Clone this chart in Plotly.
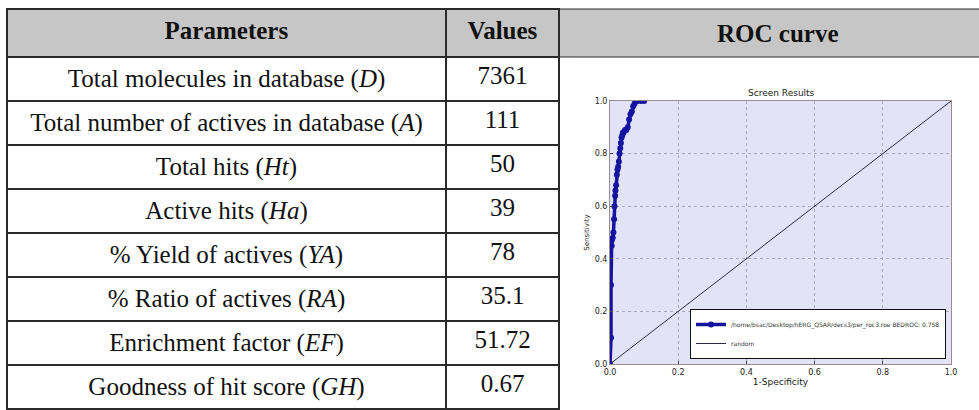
import plotly.graph_objects as go

W, H = 979, 410

# ---- table data ----
header_labels = ["<b>Parameters</b>", "<b>Values</b>"]
roc_header = "<b>ROC curve</b>"
parameters = [
    "Total molecules in database (<i>D</i>)",
    "Total number of actives in database (<i>A</i>)",
    "Total hits (<i>Ht</i>)",
    "Active hits (<i>Ha</i>)",
    "% Yield of actives (<i>YA</i>)",
    "% Ratio of actives (<i>RA</i>)",
    "Enrichment factor (<i>EF</i>)",
    "Goodness of hit score (<i>GH</i>)",
]
values = ["7361", "111", "50", "39", "78", "35.1", "51.72", "0.67"]

# ---- ROC data ----
fpr = [0.0, 0.003, 0.003, 0.005, 0.005, 0.008, 0.010, 0.012, 0.013, 0.015, 0.016,
       0.018, 0.020, 0.022, 0.024, 0.026, 0.028, 0.030, 0.032, 0.034, 0.036, 0.038,
       0.040, 0.044, 0.048, 0.052, 0.056, 0.060, 0.064, 0.068, 0.072, 0.076, 0.080,
       0.090, 0.100]
tpr = [0.0, 0.10, 0.30, 0.45, 0.47, 0.48, 0.50, 0.55, 0.60, 0.64, 0.66,
       0.68, 0.72, 0.74, 0.75, 0.77, 0.80, 0.82, 0.84, 0.86, 0.87, 0.88,
       0.88, 0.89, 0.89, 0.90, 0.93, 0.95, 0.96, 0.98, 0.99, 1.0, 1.0,
       1.0, 1.0]
random_x = [0.0, 1.0]
random_y = [0.0, 1.0]
ticks = [0.0, 0.2, 0.4, 0.6, 0.8, 1.0]
tick_text = ["0.0", "0.2", "0.4", "0.6", "0.8", "1.0"]
roc_name = "/home/bsac/Desktop/hERG_QSAR/decs3/per_roc3.roe BEDROC: 0.758"

def px(x):
    return x / W

def py(y):
    return 1 - y / H

fig = go.Figure()

SERIF = "Liberation Serif, Times New Roman, serif"
GRAY = "#c6c6c6"
LINE = "#2a2a2a"

fig.add_trace(go.Table(
    domain=dict(x=[px(7), px(559)], y=[0, py(9)]),
    columnwidth=[439, 113],
    header=dict(values=header_labels, fill_color=GRAY, height=48,
                line=dict(color=LINE, width=1.2),
                font=dict(family=SERIF, size=25, color="#111111"), align="center"),
    cells=dict(values=[parameters, values], fill_color="white", height=44,
               line=dict(color=LINE, width=1.2),
               font=dict(family=SERIF, size=25, color="#111111"),
               align="center"),
))

fig.add_trace(go.Scatter(
    x=random_x, y=random_y, mode="lines", name="random",
    line=dict(color="#2a2a40", width=1), xaxis="x", yaxis="y",
))
fig.add_trace(go.Scatter(
    x=fpr, y=tpr, mode="lines+markers", name=roc_name,
    line=dict(color="#1414a0", width=3.5),
    marker=dict(color="#1414a0", size=6),
    xaxis="x", yaxis="y",
))

# ROC header cell
fig.add_shape(type="rect", xref="paper", yref="paper",
              x0=px(559), x1=px(990), y0=py(57), y1=py(9),
              fillcolor=GRAY, line=dict(color=LINE, width=1.2), layer="below")
fig.add_annotation(text=roc_header, xref="paper", yref="paper",
                   x=px(778), y=py(34), xanchor="center", yanchor="middle",
                   showarrow=False,
                   font=dict(family=SERIF, size=25, color="#111111"))
fig.add_annotation(text="Screen Results", xref="paper", yref="paper",
                   x=px(781), y=py(93), xanchor="center", yanchor="middle",
                   showarrow=False,
                   font=dict(family="DejaVu Sans", size=9, color="#222222"))

axis_common = dict(
    range=[0, 1], tickvals=ticks, ticktext=tick_text,
    showgrid=True, gridcolor="#a8a8b8", griddash="dot", gridwidth=1,
    showline=True, linecolor="#a08890", linewidth=1, mirror=True,
    ticks="inside", ticklen=3, tickcolor="#444444",
    tickfont=dict(family="DejaVu Sans", size=8, color="#222222"),
    zeroline=False, fixedrange=True, automargin=False,
)

fig.update_layout(
    width=W, height=H,
    margin=dict(l=0, r=0, t=0, b=0, pad=0, autoexpand=False),
    paper_bgcolor="white",
    plot_bgcolor="#e3e3f7",
    xaxis=dict(domain=[px(610), px(951)], anchor="y",
               title=dict(text="1-Specificity", standoff=2,
                          font=dict(family="DejaVu Sans", size=9, color="#222222")),
               **axis_common),
    yaxis=dict(domain=[py(364), py(101)], anchor="x",
               title=dict(text="Sensitivity", standoff=4,
                          font=dict(family="DejaVu Sans", size=7, color="#222222")),
               **axis_common),
    showlegend=True,
    legend=dict(x=px(946), y=py(359), xanchor="right", yanchor="bottom",
                bgcolor="white", bordercolor="#111111", borderwidth=1,
                font=dict(family="DejaVu Sans", size=6, color="#333333"),
                traceorder="reversed", tracegroupgap=0),
)

fig.write_html("out.html", config={"displayModeBar": False},
               post_script="document.body.style.margin='0';")
